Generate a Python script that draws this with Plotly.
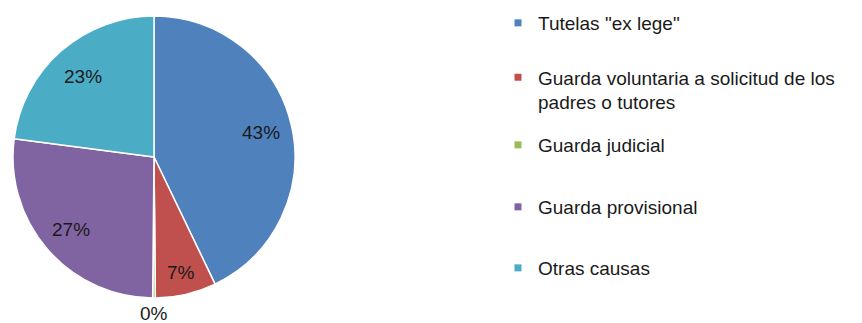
import math
import plotly.graph_objects as go

labels = ['Tutelas "ex lege"',
          'Guarda voluntaria a solicitud de los<br>padres o tutores',
          'Guarda judicial',
          'Guarda provisional',
          'Otras causas']
values = [43, 7, 0.3, 27, 23]
colors = ['#4F81BD', '#C0504D', '#9BBB59', '#8064A2', '#4BACC6']

W, H = 862, 323
CX, CY, R = 154, 157, 141          # pie centre / radius in px
label_ratio = [0.78, 0.84, 1.11, 0.78, 0.76]   # label distance / radius
legend_y_px = [23, 90, 145, 207, 268]          # legend item centres (px from top)
FONT = 'Liberation Sans, Arial'

fig = go.Figure()
fig.add_trace(go.Pie(
    labels=labels, values=values, sort=False, direction='clockwise', rotation=0,
    marker=dict(colors=colors, line=dict(color='white', width=1.5)),
    textinfo='none', hoverinfo='label+percent',
    domain=dict(x=[(CX - R) / W, (CX + R) / W], y=[1 - (CY + R) / H, 1 - (CY - R) / H]),
    showlegend=False,
))

total = sum(values)
cum = 0
annotations = []
for v, ratio in zip(values, label_ratio):
    mid = (cum + v / 2) / total * 2 * math.pi
    cum += v
    d = ratio * R
    px = CX + d * math.sin(mid)
    py = CY - d * math.cos(mid)
    annotations.append(dict(
        x=px / W, y=1 - py / H, xref='paper', yref='paper', showarrow=False,
        text=f'{round(v / total * 100)}%', xanchor='center', yanchor='middle',
        font=dict(family=FONT, size=19, color='#1a1a1a')))

legend_layout = {}
for i, (lab, col, ly) in enumerate(zip(labels, colors, legend_y_px)):
    key = 'legend' if i == 0 else f'legend{i + 1}'
    fig.add_trace(go.Scatter(
        x=[None], y=[None], mode='markers', name=lab, legend=key,
        marker=dict(symbol='square', size=7, color=col), showlegend=True,
    ))
    legend_layout[key] = dict(
        x=498 / W, xanchor='left', y=1 - ly / H, yanchor='middle',
        font=dict(family=FONT, size=19, color='#1a1a1a'),
        valign='top', bgcolor='rgba(0,0,0,0)', borderwidth=0)

fig.update_layout(
    width=W, height=H, margin=dict(l=0, r=0, t=0, b=0),
    paper_bgcolor='white', plot_bgcolor='white',
    xaxis=dict(visible=False), yaxis=dict(visible=False),
    annotations=annotations,
    **legend_layout,
)
fig.write_html('out.html')
